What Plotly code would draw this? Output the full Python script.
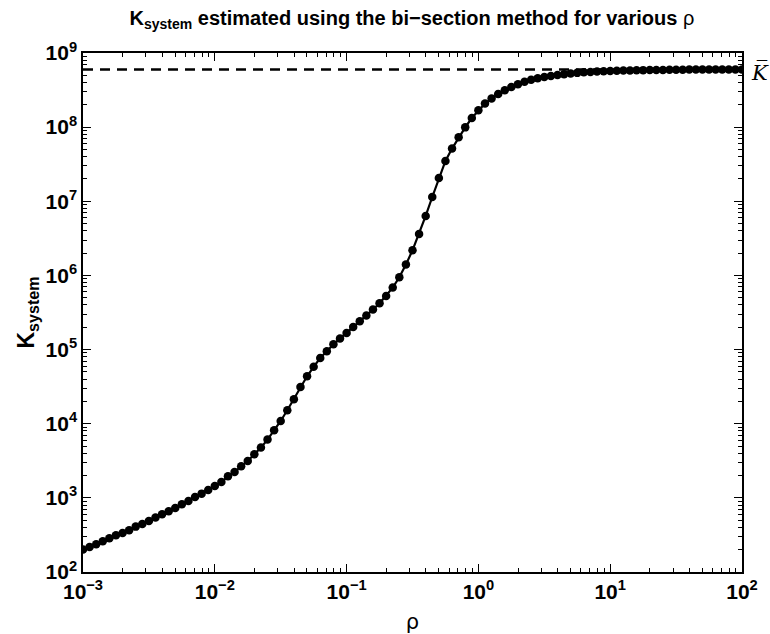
import numpy as np
import plotly.graph_objects as go

# rho sampled at 20 points per decade from 1e-3 to 1e2
rho = np.logspace(-3, 2, 101)

# log10 of K_system
log10_K = [
    2.302, 2.337, 2.374, 2.414, 2.455, 2.495, 2.526, 2.562, 2.612, 2.647,
    2.688, 2.734, 2.778, 2.819, 2.863, 2.913, 2.958, 3.012, 3.057, 3.106,
    3.160, 3.214, 3.291, 3.349, 3.426, 3.497, 3.588, 3.678, 3.786, 3.911,
    4.037, 4.181, 4.329, 4.495, 4.640, 4.768, 4.886, 4.977, 5.071, 5.148,
    5.224, 5.305, 5.381, 5.458, 5.539, 5.624, 5.723, 5.836, 5.975, 6.146,
    6.339, 6.559, 6.802, 7.058, 7.314, 7.544, 7.711, 7.863, 7.997, 8.123,
    8.227, 8.318, 8.385, 8.447, 8.497, 8.542, 8.580, 8.612, 8.638, 8.659,
    8.676, 8.691, 8.704, 8.715, 8.724, 8.732, 8.739, 8.745, 8.750, 8.754,
    8.757, 8.760, 8.763, 8.765, 8.767, 8.769, 8.770, 8.771, 8.772, 8.773,
    8.774, 8.775, 8.776, 8.776, 8.777, 8.777, 8.778, 8.778, 8.778, 8.779,
    8.779,
]
K_system = [10 ** v for v in log10_K]
K_bar = 6.0e8

x_tickvals = [1e-3, 1e-2, 1e-1, 1e0, 1e1, 1e2]
x_ticktext = ["10<sup>−3</sup>", "10<sup>−2</sup>", "10<sup>−1</sup>",
              "10<sup>0</sup>", "10<sup>1</sup>", "10<sup>2</sup>"]
y_tickvals = [1e2, 1e3, 1e4, 1e5, 1e6, 1e7, 1e8, 1e9]
y_ticktext = ["10<sup>2</sup>", "10<sup>3</sup>", "10<sup>4</sup>", "10<sup>5</sup>",
              "10<sup>6</sup>", "10<sup>7</sup>", "10<sup>8</sup>", "10<sup>9</sup>"]

FONT = "Liberation Sans, Arial, Helvetica, sans-serif"

fig = go.Figure()
fig.add_trace(go.Scatter(
    x=[rho[0], rho[-1]], y=[K_bar, K_bar], mode="lines",
    line=dict(color="black", width=2.5, dash="10px,7px"), hoverinfo="skip",
    showlegend=False))
fig.add_trace(go.Scatter(
    x=rho, y=K_system, mode="lines+markers",
    line=dict(color="black", width=2.2),
    marker=dict(color="black", size=8.5, line=dict(width=0)),
    showlegend=False))

axis_common = dict(
    type="log", showgrid=False, zeroline=False, showline=True,
    linecolor="black", linewidth=1.5, mirror="allticks", automargin=False,
    ticks="inside", ticklen=8, tickwidth=1, tickcolor="black",
    tickmode="array",
    tickfont=dict(family=FONT, size=21, color="black", weight="bold"),
    minor=dict(ticks="inside", ticklen=4, tickwidth=1, tickcolor="black",
               dtick="D1", showgrid=False),
)

fig.update_xaxes(
    **axis_common, range=[-3, 2], tickvals=x_tickvals, ticktext=x_ticktext,
    title=dict(text="ρ", font=dict(family="DejaVu Sans, sans-serif", size=21,
                                    color="black"), standoff=12),
)
fig.update_yaxes(
    **axis_common, range=[2, 9], tickvals=y_tickvals, ticktext=y_ticktext,
    title=dict(text="<b>K<sub>system</sub></b>",
               font=dict(family=FONT, size=23, color="black"), standoff=4),
)

fig.add_annotation(
    x=1, xref="paper", y=np.log10(K_bar), yref="y",
    text="<i>K\u0305</i>", showarrow=False, xanchor="left", xshift=7, yshift=-3,
    font=dict(family="DejaVu Serif, serif", size=21, color="black"),
)

fig.update_layout(
    width=770, height=634,
    margin=dict(l=83, r=28, t=53, b=62),
    paper_bgcolor="white", plot_bgcolor="white",
    title=dict(
        text="<b>K<sub>system</sub> estimated using the bi−section method for various </b>ρ",
        x=0.535, xanchor="center", y=0.972, yanchor="middle",
        font=dict(family=FONT, size=20, color="black"),
    ),
)

fig.write_html("out.html")
